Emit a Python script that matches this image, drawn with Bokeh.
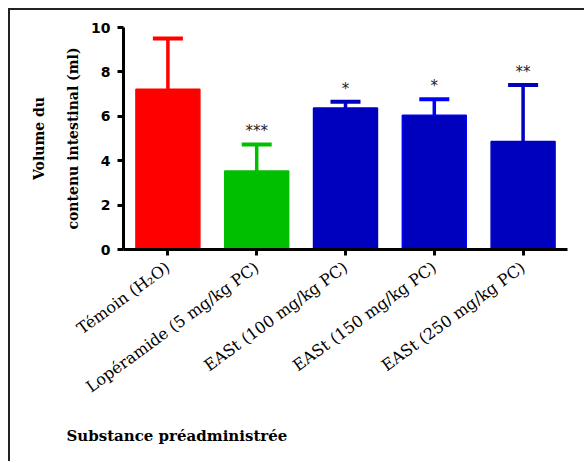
from bokeh.plotting import figure
from bokeh.models import FactorRange, Range1d, Title, ColumnDataSource
from bokeh.embed import file_html
from bokeh.resources import INLINE
from bokeh.core.properties import value

# ---- data ----
groups = ["Témoin (H₂O)", "Lopéramide (5 mg/kg PC)", "EASt (100 mg/kg PC)",
          "EASt (150 mg/kg PC)", "EASt (250 mg/kg PC)"]
means = [7.22, 3.54, 6.37, 6.05, 4.86]
upper = [9.50, 4.73, 6.65, 6.77, 7.41]
stars = ["", "***", "*", "*", "**"]
yticks = [0, 2, 4, 6, 8, 10]

# ---- styles ----
fills = ["#FF0000", "#00BF00", "#0000BF", "#0000BF", "#0000BF"]
edges = ["#FF0000", "#00BF00", "#0000BF", "#0000FF", "#0000BF"]

src = ColumnDataSource(dict(g=groups, m=means, u=upper, s=stars, fill=fills, edge=edges))

p = figure(x_range=FactorRange(*groups), y_range=Range1d(0, 10),
           width=576, height=453, output_backend="svg", toolbar_location=None,
           min_border_left=113, min_border_right=19, min_border_top=17, min_border_bottom=213)
p.styles = {"margin-left": "8px", "margin-top": "8px",
            "border-left": "2px solid #222", "border-top": "2px solid #222"}
p.grid.visible = False
p.outline_line_color = None

p.vbar(x="g", top="m", width=0.72, source=src, fill_color="fill", line_color="edge", line_width=1.5)
p.segment(x0="g", y0="m", x1="g", y1="u", source=src, line_color="edge", line_width=3.5)
p.rect(x="g", y="u", width=30, height=4, width_units="screen", height_units="screen",
       source=src, fill_color="edge", line_color=None)
p.text(x="g", y="u", text="s", source=src, text_align="center", text_baseline="bottom",
       y_offset=-4, text_font=value("DejaVu Sans"), text_font_size="15px", text_color="#222")

for ax in (p.xaxis[0], p.yaxis[0]):
    ax.axis_line_width = 3
    ax.axis_line_color = "black"
    ax.major_tick_line_width = 3
    ax.major_tick_out = 6
    ax.major_tick_in = 0
    ax.minor_tick_line_color = None

p.yaxis.ticker = yticks
p.yaxis.major_label_text_font = "DejaVu Sans"
p.yaxis.major_label_text_font_style = "bold"
p.yaxis.major_label_text_font_size = "14px"
p.yaxis.major_label_text_color = "black"
p.yaxis.major_label_standoff = 7

p.xaxis.major_label_orientation = 0.63
p.xaxis.major_label_text_font = "DejaVu Serif"
p.xaxis.major_label_text_font_size = "16px"
p.xaxis.major_label_text_color = "black"
p.xaxis.major_label_standoff = 10

title_font = "DejaVu Serif"
p.add_layout(Title(text="contenu intestinal (ml)", align="center", standoff=16, text_color="black",
                   text_font=title_font, text_font_style="bold", text_font_size="14px"), "left")
p.add_layout(Title(text="Volume du", align="center", standoff=15, text_color="black",
                   text_font=title_font, text_font_style="bold", text_font_size="14px"), "left")
p.add_layout(Title(text="Substance préadministrée", align="left", offset=-57, standoff=37,
                   text_color="black",
                   text_font=title_font, text_font_style="bold", text_font_size="15px"), "below")

open("out.html", "w").write(file_html(p, INLINE))
